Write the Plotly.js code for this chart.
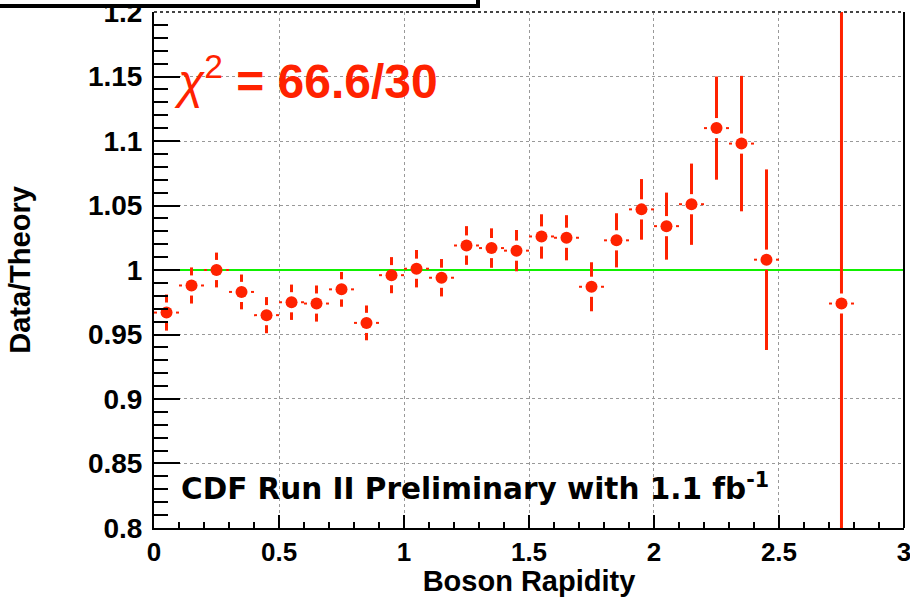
<!DOCTYPE html>
<html><head><meta charset="utf-8">
<script src="https://cdn.plot.ly/plotly-3.0.1.min.js"></script>
<style>html,body{margin:0;padding:0;background:#fff}#chart{width:910px;height:597px}</style>
</head><body><div id="chart"></div>
<script>
// ---- data ----
const rapidity = [0.05,0.15,0.25,0.35,0.45,0.55,0.65,0.75,0.85,0.95,1.05,1.15,1.25,1.35,1.45,1.55,1.65,1.75,1.85,1.95,2.05,2.15,2.25,2.35,2.45,2.75];
const ratio    = [0.967,0.988,1.000,0.983,0.965,0.975,0.974,0.985,0.959,0.996,1.001,0.994,1.019,1.017,1.015,1.026,1.025,0.987,1.023,1.047,1.034,1.051,1.110,1.098,1.008,0.974];
const ratioErr = [0.014,0.014,0.0135,0.0135,0.014,0.0137,0.014,0.0135,0.0135,0.014,0.0145,0.0145,0.015,0.0153,0.016,0.0172,0.0175,0.019,0.021,0.0235,0.026,0.0315,0.040,0.0525,0.070,0.30];
const binHalfWidth = [0.05,0.05,0.05,0.05,0.05,0.05,0.05,0.05,0.05,0.05,0.05,0.05,0.05,0.05,0.05,0.05,0.05,0.05,0.05,0.05,0.05,0.05,0.05,0.05,0.05,0.05];
const referenceX = [0, 3];
const referenceY = [1, 1];
const xTickVals = [0,0.5,1,1.5,2,2.5,3];
const xTickText = ['0','0.5','1','1.5','2','2.5','3'];
const yTickVals = [0.8,0.85,0.9,0.95,1,1.05,1.1,1.15,1.2];
const yTickText = ['0.8','0.85','0.9','0.95','1','1.05','1.1','1.15','1.2'];

// ---- style constants ----
const RED = '#ff2200';
const FONT = 'Liberation Sans';
const gapY = 0.0078;   // gap between marker and vertical bar (data units)
const gapX = 0.038;    // gap between marker and horizontal bar (data units)

// error bar segments, ROOT style with a gap around the marker
const vx = [], vy = [], hx = [], hy = [];
for (let i = 0; i < rapidity.length; i++) {
  const x = rapidity[i], y = ratio[i], e = ratioErr[i], w = binHalfWidth[i];
  if (e > gapY) {
    vx.push(x, x, null, x, x, null);
    vy.push(y + gapY, y + e, null, y - gapY, y - e, null);
  }
  hx.push(x - w, x - gapX, null, x + gapX, x + w, null);
  hy.push(y, y, null, y, y, null);
}

const traces = [
  {x: referenceX, y: referenceY, mode: 'lines', line: {color: '#11f000', width: 2}, hoverinfo: 'skip'},
  {x: vx, y: vy, mode: 'lines', line: {color: RED, width: 3}, hoverinfo: 'skip'},
  {x: hx, y: hy, mode: 'lines', line: {color: RED, width: 2}, hoverinfo: 'skip'},
  {x: rapidity, y: ratio, mode: 'markers', marker: {color: RED, size: 12, symbol: 'circle'}}
];

const layout = {
  width: 910, height: 597,
  margin: {l: 154, r: 6, t: 12, b: 69},
  paper_bgcolor: '#fff', plot_bgcolor: '#fff',
  showlegend: false,
  xaxis: {
    range: [-0.0001, 3.0001], tickmode: 'array', tickvals: xTickVals, ticktext: xTickText,
    ticks: 'inside', ticklen: 13, tickwidth: 2, tickcolor: '#000',
    showline: true, linewidth: 2, linecolor: '#000', zeroline: false,
    showgrid: true, gridcolor: '#999', griddash: 'dot', gridwidth: 1,
    minor: {tickmode: 'linear', tick0: 0, dtick: 0.1, ticks: 'inside', ticklen: 6, tickwidth: 2, tickcolor: '#000', showgrid: false},
    tickfont: {family: FONT, size: 26, color: '#000', weight: 'bold'},
    ticklabeloverflow: 'allow',
    ticklabelstandoff: 0,
    title: {text: 'Boson Rapidity', font: {family: FONT, size: 29, color: '#000', weight: 'bold'}, standoff: 0}
  },
  yaxis: {
    range: [0.79999, 1.20001], tickmode: 'array', tickvals: yTickVals, ticktext: yTickText,
    ticks: 'inside', ticklen: 26, tickwidth: 2, tickcolor: '#000',
    showline: true, linewidth: 2, linecolor: '#000', zeroline: false,
    showgrid: true, gridcolor: '#999', griddash: 'dot', gridwidth: 1,
    minor: {tickmode: 'linear', tick0: 0.8, dtick: 0.01, ticks: 'inside', ticklen: 14, tickwidth: 2, tickcolor: '#000', showgrid: false},
    tickfont: {family: FONT, size: 28, color: '#000', weight: 'bold'},
    ticklabeloverflow: 'allow',
    ticklabelstandoff: 4,
    title: {text: 'Data/Theory', font: {family: FONT, size: 29, color: '#000', weight: 'bold'}, standoff: 49}
  },
  shapes: [
    {type: 'line', xref: 'paper', yref: 'paper', x0: 1, x1: 1, y0: 0, y1: 1, line: {color: '#000', width: 2}},
    {type: 'line', xref: 'paper', yref: 'paper', x0: 0, x1: 1, y0: 1, y1: 1, line: {color: '#444', width: 2, dash: 'dot'}},
    {type: 'rect', xref: 'paper', yref: 'paper', x0: -0.23, x1: 0.432, y0: 1.0116, y1: 1.08,
     fillcolor: '#fff', line: {color: '#000', width: 4}, layer: 'above'}
  ],
  annotations: [
    {xref: 'paper', yref: 'paper', x: 0.024, y: 0.872, xanchor: 'left', yanchor: 'middle', showarrow: false,
     text: '<i>χ</i><sup>2</sup><b> = 66.6/30</b>',
     font: {family: FONT, size: 48, color: RED}},
    {xref: 'paper', yref: 'paper', x: 0.033, y: 0.08, xanchor: 'left', yanchor: 'middle', showarrow: false,
     text: '<b>CDF Run II Preliminary with 1.1 fb<sup>-1</sup></b>',
     font: {family: 'DejaVu Sans', size: 29.5, color: '#000'}}
  ]
};

Plotly.newPlot('chart', traces, layout, {staticPlot: true, displayModeBar: false});
</script>
</body></html>
